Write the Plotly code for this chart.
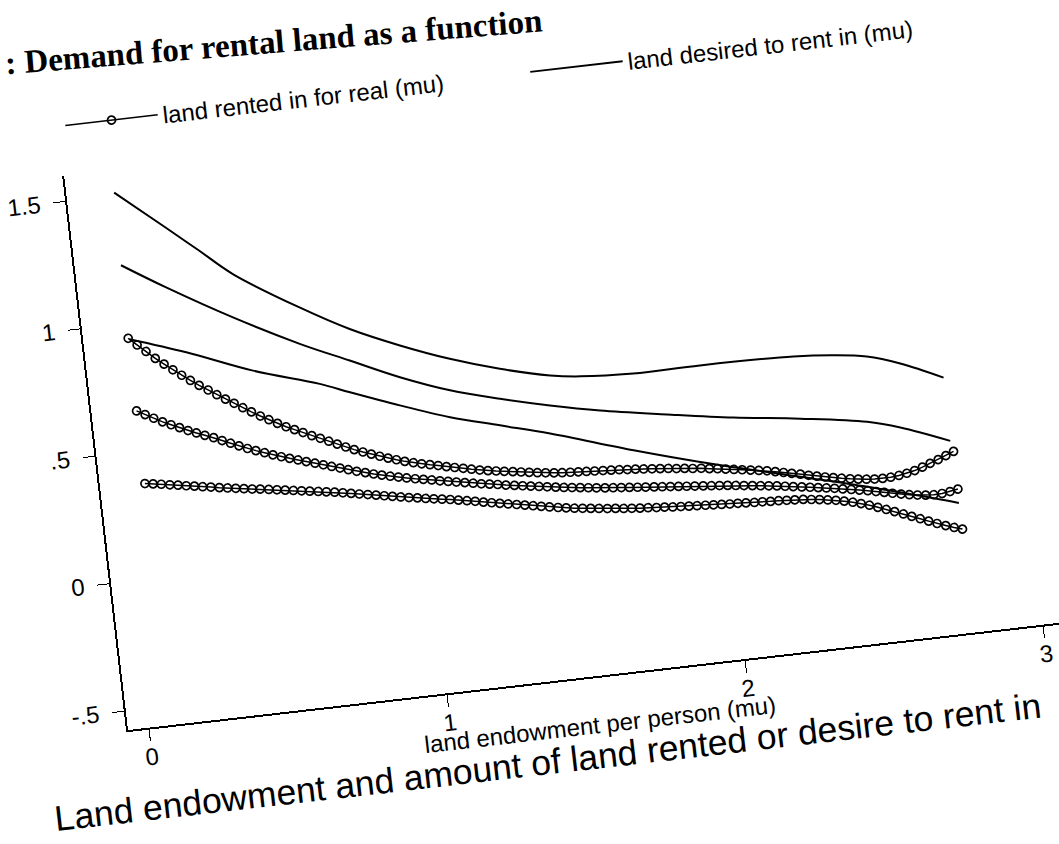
import plotly.graph_objects as go

# ---------------- data ----------------
# evaluation grid for the "rented in for real" curves (land endowment per person, mu)
x_real = [0.080, 0.107, 0.134, 0.162, 0.189, 0.216, 0.243, 0.270, 0.297, 0.325,
          0.352, 0.379, 0.406, 0.433, 0.460, 0.488, 0.515, 0.542, 0.569, 0.596,
          0.623, 0.651, 0.678, 0.705, 0.732, 0.759, 0.786, 0.814, 0.841, 0.868,
          0.895, 0.922, 0.949, 0.977, 1.004, 1.031, 1.058, 1.085, 1.112, 1.140,
          1.167, 1.194, 1.221, 1.248, 1.275, 1.303, 1.330, 1.357, 1.384, 1.411,
          1.439, 1.466, 1.493, 1.520, 1.547, 1.574, 1.602, 1.629, 1.656, 1.683,
          1.710, 1.737, 1.765, 1.792, 1.819, 1.846, 1.873, 1.900, 1.928, 1.955,
          1.982, 2.009, 2.036, 2.063, 2.091, 2.118, 2.145, 2.172, 2.199, 2.226,
          2.254, 2.281, 2.308, 2.335, 2.362, 2.389, 2.417, 2.444, 2.471, 2.498,
          2.525, 2.552, 2.580, 2.607, 2.634, 2.661, 2.688, 2.716, 2.743, 2.770]

real_upper = [0.942, 0.912, 0.883, 0.852, 0.826, 0.800, 0.775, 0.751, 0.728, 0.706,
              0.684, 0.663, 0.643, 0.622, 0.602, 0.582, 0.564, 0.546, 0.529, 0.514,
              0.499, 0.483, 0.469, 0.454, 0.439, 0.424, 0.410, 0.397, 0.385, 0.373,
              0.362, 0.352, 0.342, 0.333, 0.325, 0.318, 0.311, 0.303, 0.296, 0.289,
              0.282, 0.275, 0.269, 0.264, 0.259, 0.254, 0.249, 0.244, 0.239, 0.235,
              0.231, 0.228, 0.226, 0.224, 0.222, 0.220, 0.218, 0.216, 0.214, 0.211,
              0.209, 0.206, 0.203, 0.200, 0.197, 0.193, 0.190, 0.186, 0.183, 0.178,
              0.174, 0.169, 0.164, 0.159, 0.154, 0.149, 0.144, 0.137, 0.130, 0.123,
              0.116, 0.108, 0.101, 0.094, 0.088, 0.082, 0.076, 0.071, 0.067, 0.064,
              0.063, 0.064, 0.067, 0.072, 0.079, 0.089, 0.100, 0.111, 0.123, 0.136]

real_fit = [0.657, 0.639, 0.621, 0.603, 0.588, 0.573, 0.558, 0.545, 0.532, 0.519,
            0.504, 0.490, 0.476, 0.462, 0.450, 0.438, 0.426, 0.415, 0.405, 0.395,
            0.385, 0.375, 0.365, 0.355, 0.345, 0.335, 0.325, 0.316, 0.307, 0.299,
            0.291, 0.284, 0.277, 0.270, 0.264, 0.258, 0.251, 0.245, 0.239, 0.233,
            0.227, 0.221, 0.216, 0.211, 0.205, 0.200, 0.195, 0.190, 0.185, 0.180,
            0.175, 0.170, 0.166, 0.162, 0.158, 0.154, 0.150, 0.147, 0.144, 0.141,
            0.138, 0.135, 0.132, 0.129, 0.126, 0.123, 0.120, 0.117, 0.114, 0.111,
            0.108, 0.105, 0.101, 0.097, 0.093, 0.089, 0.085, 0.081, 0.076, 0.071,
            0.066, 0.061, 0.056, 0.051, 0.046, 0.040, 0.034, 0.028, 0.022, 0.015,
            0.008, 0.001, -0.006, -0.012, -0.017, -0.021, -0.023, -0.022, -0.018, -0.012]

real_lower = [0.372, 0.367, 0.362, 0.356, 0.351, 0.345, 0.340, 0.334, 0.329, 0.323,
              0.318, 0.313, 0.308, 0.303, 0.299, 0.294, 0.289, 0.284, 0.279, 0.274,
              0.269, 0.264, 0.259, 0.254, 0.248, 0.242, 0.236, 0.230, 0.224, 0.218,
              0.212, 0.206, 0.200, 0.195, 0.189, 0.184, 0.179, 0.174, 0.168, 0.162,
              0.156, 0.149, 0.143, 0.137, 0.131, 0.125, 0.119, 0.113, 0.107, 0.101,
              0.095, 0.090, 0.085, 0.081, 0.077, 0.073, 0.069, 0.066, 0.062, 0.059,
              0.056, 0.054, 0.051, 0.049, 0.046, 0.044, 0.042, 0.040, 0.038, 0.036,
              0.034, 0.032, 0.031, 0.029, 0.027, 0.026, 0.024, 0.023, 0.021, 0.019,
              0.017, 0.013, 0.009, 0.004, -0.001, -0.008, -0.016, -0.025, -0.035, -0.047,
              -0.059, -0.071, -0.084, -0.097, -0.110, -0.123, -0.136, -0.148, -0.159, -0.169]

# "desired to rent in" curves (solid lines)
x_des_upper = [0.089, 0.247, 0.349, 0.451, 0.659, 0.817, 0.977, 1.137, 1.299,
               1.463, 1.562, 1.739, 1.963, 2.276, 2.409, 2.519, 2.627, 2.765]
des_upper = [1.512, 1.353, 1.249, 1.144, 0.985, 0.879, 0.793, 0.719, 0.658,
             0.610, 0.593, 0.580, 0.582, 0.575, 0.562, 0.542, 0.500, 0.426]

x_des_fit = [0.084, 0.225, 0.435, 0.646, 0.805, 0.965, 1.126, 1.288,
             1.451, 1.615, 1.835, 2.054, 2.275, 2.495, 2.603, 2.763]
des_fit = [1.228, 1.122, 0.976, 0.844, 0.757, 0.670, 0.597, 0.542,
           0.494, 0.452, 0.407, 0.365, 0.331, 0.289, 0.252, 0.178]

x_des_lower = [0.084, 0.267, 0.481, 0.697, 0.794, 0.954, 1.116, 1.278,
               1.441, 1.711, 1.927, 2.253, 2.471, 2.687, 2.768]
des_lower = [0.938, 0.862, 0.761, 0.680, 0.634, 0.561, 0.493, 0.439,
             0.385, 0.283, 0.208, 0.106, 0.037, -0.037, -0.066]

y_tickvals = [-0.5, 0, 0.5, 1, 1.5]
y_ticktext = ["-.5", "0", ".5", "1", "1.5"]
x_tickvals = [0, 1, 2, 3]
x_ticktext = ["0", "1", "2", "3"]

name_real = "land rented in for real (mu)"
name_desired = "land desired to rent in (mu)"
title_text = ": Demand for rental land as a function"
x_title = "land endowment per person (mu)"
caption = "Land endowment and amount of land rented or desire to rent in"

# ---------------- figure ----------------
SANS = "Liberation Sans, Arial, Helvetica, sans-serif"
SERIF = "Liberation Serif, Times New Roman, serif"

fig = go.Figure()

circ_marker = dict(symbol="circle-open", size=8, color="black", line=dict(width=1.7, color="black"))
circ_line = dict(color="black", width=1.5)

fig.add_trace(go.Scatter(x=x_real, y=real_fit, mode="lines+markers", name=name_real,
                         marker=circ_marker, line=circ_line, legendgroup="real", showlegend=True))
fig.add_trace(go.Scatter(x=x_real, y=real_upper, mode="lines+markers", name=name_real,
                         marker=circ_marker, line=circ_line, legendgroup="real", showlegend=False))
fig.add_trace(go.Scatter(x=x_real, y=real_lower, mode="lines+markers", name=name_real,
                         marker=circ_marker, line=circ_line, legendgroup="real", showlegend=False))

sol_line = dict(color="black", width=2.0, shape="spline", smoothing=1.0)
fig.add_trace(go.Scatter(x=x_des_fit, y=des_fit, mode="lines", name=name_desired,
                         line=sol_line, legendgroup="des", showlegend=True))
fig.add_trace(go.Scatter(x=x_des_upper, y=des_upper, mode="lines", name=name_desired,
                         line=sol_line, legendgroup="des", showlegend=False))
fig.add_trace(go.Scatter(x=x_des_lower, y=des_lower, mode="lines", name=name_desired,
                         line=sol_line, legendgroup="des", showlegend=False))

axis_common = dict(showline=True, linecolor="black", linewidth=1.7, showgrid=False,
                   zeroline=False, ticks="outside", ticklen=12, tickwidth=1.4,
                   tickcolor="black", tickfont=dict(family=SANS, size=24, color="black"))

fig.update_layout(
    width=1200, height=1000,
    margin=dict(l=163, r=80, t=199.5, b=241.5),
    paper_bgcolor="white", plot_bgcolor="white",
    font=dict(family=SANS, color="black", size=24),
    xaxis=dict(range=[-0.07, 3.12], tickvals=x_tickvals, ticktext=x_ticktext,
               ticklabelstandoff=-5, **axis_common),
    yaxis=dict(range=[-0.575, 1.60], tickvals=y_tickvals, ticktext=y_ticktext,
               ticklabelstandoff=8, **axis_common),
    legend=dict(orientation="h", x=0.002, y=1.0886, xanchor="left", yanchor="middle",
                itemwidth=93, entrywidth=360, entrywidthmode="pixels",
                font=dict(family=SANS, size=24, color="black"),
                bgcolor="rgba(0,0,0,0)", traceorder="normal"),
    annotations=[
        dict(text="<b>" + title_text + "</b>", xref="paper", yref="paper",
             x=-0.0512, y=1.1959, xanchor="left", yanchor="middle", showarrow=False,
             textangle=2, font=dict(family=SERIF, size=33, color="black")),
        dict(text=x_title, xref="paper", yref="paper", x=0.4911, y=-0.0862,
             xanchor="center", yanchor="middle", showarrow=False,
             font=dict(family=SANS, size=24, color="black")),
        dict(text=caption, xref="paper", yref="paper", x=0.4326, y=-0.1433,
             xanchor="center", yanchor="middle", showarrow=False,
             font=dict(family=SANS, size=35.5, color="black")),
    ],
)

# the reference is a slightly rotated scan: reproduce the tilt of the page
post = (
    "document.documentElement.style.overflow='hidden';"
    "document.body.style.overflow='hidden';"
    "document.body.style.margin='0';"
    "var d=document.getElementById('{plot_id}');"
    "d.style.position='absolute';d.style.left='-70px';d.style.top='-80px';"
    "d.style.transformOrigin='634px 479px';"
    "d.style.transform='rotate(-6.57deg)';"
)

fig.write_html("out.html", post_script=post, config={"displayModeBar": False})
